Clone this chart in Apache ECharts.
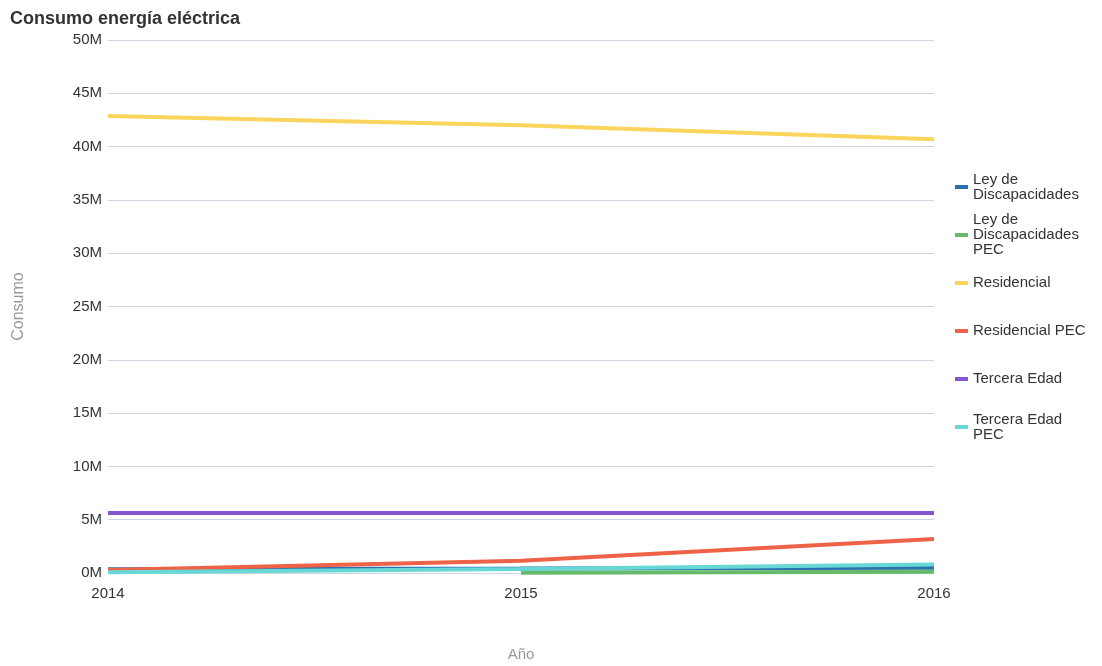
<!DOCTYPE html>
<html><head><meta charset="utf-8">
<script src="https://cdn.jsdelivr.net/npm/echarts@6/dist/echarts.min.js"></script>
<style>html,body{margin:0;padding:0;background:#fff}#c{width:1102px;height:666px}</style>
</head><body><div id="c"></div>
<script>
var years = ['2014', '2015', '2016'];
var seriesNames = ['Ley de Discapacidades', 'Ley de Discapacidades PEC', 'Residencial', 'Residencial PEC', 'Tercera Edad', 'Tercera Edad PEC'];
var legendLabels = ['Ley de\nDiscapacidades', 'Ley de\nDiscapacidades\nPEC', 'Residencial', 'Residencial PEC', 'Tercera Edad', 'Tercera Edad\nPEC'];
var leyDisc = [350000, 420000, 500000];
var leyDiscPec = [null, 20000, 120000];
var residencial = [42870000, 42000000, 40700000];
var residencialPec = [280000, 1150000, 3200000];
var terceraEdad = [5630000, 5630000, 5630000];
var terceraEdadPec = [70000, 370000, 800000];
var colors = ['#2a6fae', '#66bb6a', '#fad45c', '#ee6347', '#8456cf', '#68d8d6'];
var values = [leyDisc, leyDiscPec, residencial, residencialPec, terceraEdad, terceraEdadPec];
var FF = 'Liberation Sans, Arial, sans-serif';

var chart = echarts.init(document.getElementById('c'));
chart.setOption({
  animation: false,
  color: colors,
  title: { text: 'Consumo energía eléctrica', left: 5, top: 5, textStyle: { fontSize: 18, fontWeight: 'bold', color: '#333', fontFamily: FF } },
  legend: {
    orient: 'vertical', left: 950, top: 158, itemGap: 0,
    itemWidth: 13, itemHeight: 4, icon: 'rect',
    data: seriesNames,
    formatter: function (n) { return legendLabels[seriesNames.indexOf(n)]; },
    textStyle: { fontSize: 15, color: '#333', lineHeight: 15, height: 48, verticalAlign: 'middle', fontFamily: FF }
  },
  grid: { left: 108, right: 168, top: 40, bottom: 93, outerBoundsMode: 'none' },
  xAxis: {
    type: 'category', data: years, boundaryGap: false,
    name: 'Año', nameLocation: 'middle', nameGap: 74,
    nameTextStyle: { color: '#999', fontSize: 15, fontFamily: FF },
    axisLine: { show: false }, axisTick: { show: false },
    axisLabel: { color: '#333', fontSize: 15, margin: 13, fontFamily: FF }
  },
  yAxis: {
    type: 'value', min: 0, max: 50000000, interval: 5000000,
    name: 'Consumo', nameLocation: 'middle', nameGap: 81, nameRotate: 90,
    nameTextStyle: { color: '#999', fontSize: 16, fontFamily: FF },
    axisLine: { show: false }, axisTick: { show: false },
    axisLabel: { color: '#333', fontSize: 15, margin: 6, formatter: function (v) { return (v / 1000000) + 'M'; }, fontFamily: FF },
    splitLine: { lineStyle: { color: '#ccd6e0', width: 1 } }
  },
  series: seriesNames.map(function (n, i) {
    return { name: n, type: 'line', data: values[i], showSymbol: false, symbol: 'none', lineStyle: { width: 4 }, connectNulls: false };
  })
});
</script></body></html>
